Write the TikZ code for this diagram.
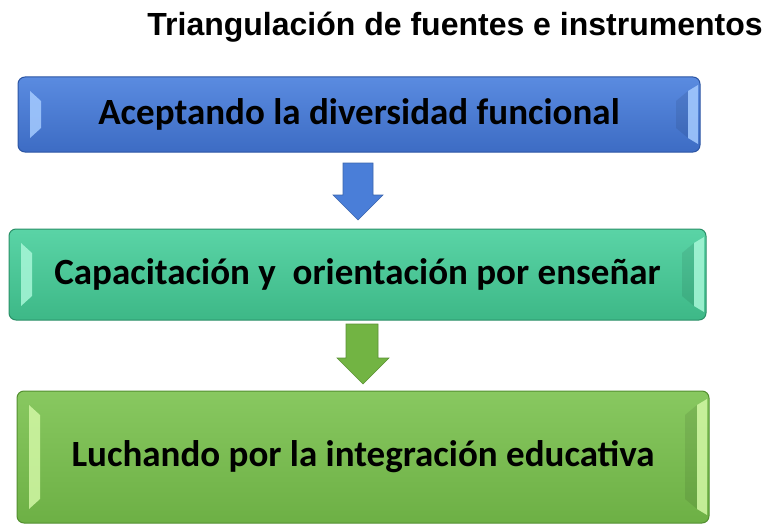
\documentclass[tikz,border=0pt]{standalone}
\usepackage{fontspec}
\usepackage{tikz}
\usetikzlibrary{positioning,calc}
\newfontfamily\boxfont{Carlito}
\newfontfamily\titlefont{Liberation Sans}

\definecolor{blueTop}{HTML}{5A8BE0}
\definecolor{blueBot}{HTML}{3D6CC4}
\definecolor{blueLine}{HTML}{2C55A3}
\definecolor{blueLight}{HTML}{A5CBFF}
\definecolor{tealTop}{HTML}{5AD4A6}
\definecolor{tealBot}{HTML}{3DB887}
\definecolor{tealLine}{HTML}{2B9068}
\definecolor{tealLight}{HTML}{A8F7D8}
\definecolor{greenTop}{HTML}{88C860}
\definecolor{greenBot}{HTML}{6DB045}
\definecolor{greenLine}{HTML}{538F30}
\definecolor{greenLight}{HTML}{D2F7A5}
\definecolor{arrowBlue}{HTML}{4A7ED8}
\definecolor{arrowGreen}{HTML}{72B443}

\tikzset{%
  bevel/.style={
    path picture={
      \fill[#1,opacity=.85,sharp corners]
        ([shift={(12pt,-14pt)}]path picture bounding box.north west) --
        ([shift={(23pt,-24pt)}]path picture bounding box.north west) --
        ([shift={(23pt,24pt)}]path picture bounding box.south west) --
        ([shift={(12pt,14pt)}]path picture bounding box.south west) -- cycle;
      \fill[black,opacity=.08,sharp corners]
        ([shift={(-12pt,-14pt)}]path picture bounding box.north east) --
        ([shift={(-24pt,-24pt)}]path picture bounding box.north east) --
        ([shift={(-24pt,24pt)}]path picture bounding box.south east) --
        ([shift={(-12pt,14pt)}]path picture bounding box.south east) -- cycle;
      \fill[#1,opacity=.85,sharp corners]
        ([shift={(-2pt,-8pt)}]path picture bounding box.north east) --
        ([shift={(-12pt,-14pt)}]path picture bounding box.north east) --
        ([shift={(-12pt,14pt)}]path picture bounding box.south east) --
        ([shift={(-2pt,8pt)}]path picture bounding box.south east) -- cycle;
    }
  },
  stepbox/.style={draw=#1Line, line width=1pt, rounded corners=7pt,
    top color=#1Top, bottom color=#1Bot, bevel=#1Light,
    font=\boxfont\bfseries\fontsize{37}{42}\selectfont, text=black},
  downarrow/.style={draw=#1!80!black, line width=.6pt, fill=#1}
}

\begin{document}
\begin{tikzpicture}[x=1pt,y=-1pt]
\useasboundingbox (0,0) rectangle (766,527);

\node[font=\titlefont\bfseries\fontsize{32}{38}\selectfont] (title) at (455,27)
  {Triangulación de fuentes e instrumentos};

\node[stepbox=blue, minimum width=682pt, minimum height=75pt] (aBox) at (359,114.5)
  {Aceptando la diversidad funcional};
\node[stepbox=teal, minimum width=697pt, minimum height=91pt] (bBox) at (357.5,274.5)
  {Capacitación y \ orientación por enseñar};
\node[stepbox=green, minimum width=692pt, minimum height=132pt] (cBox) at (363,457)
  {Luchando por la integración educativa};

% block arrows
\draw[downarrow=arrowBlue] (343,163) -- (373,163) -- (373,195) -- (383,195)
  -- (358,220) -- (333,195) -- (343,195) -- cycle;
\draw[downarrow=arrowGreen] (346,324) -- (378,324) -- (378,358) -- (389,358)
  -- (363,384) -- (337,358) -- (346,358) -- cycle;
\end{tikzpicture}
\end{document}
